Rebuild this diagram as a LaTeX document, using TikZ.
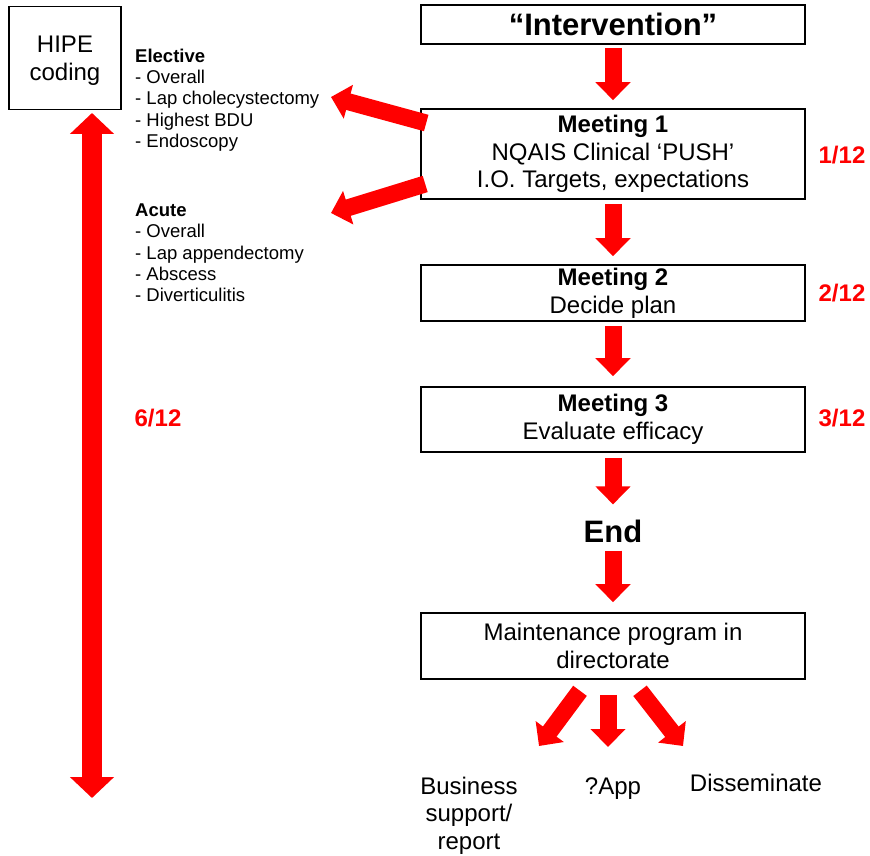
\documentclass[tikz,border=0pt]{standalone}
\usepackage{fontspec}
\setmainfont{Liberation Sans}
\usetikzlibrary{arrows.meta}

\tikzset{
  box/.style={draw, line width=1.6pt, minimum width=384pt, align=center, inner sep=0pt, font=\fontsize{24}{27.6}\selectfont},
  redarrow/.style={draw=red, line width=17pt, -{Triangle[length=18pt,width=34pt]}},
  frac/.style={text=red, inner sep=0pt, font=\bfseries\fontsize{24}{27.6}\selectfont},
  list/.style={anchor=north west, align=left, inner sep=0pt, font=\fontsize{18.5}{21.3}\selectfont},
  big/.style={inner sep=0pt, font=\bfseries\fontsize{31}{36}\selectfont},
  label/.style={inner sep=0pt, align=center, font=\fontsize{24}{27.6}\selectfont},
}

\begin{document}
\begin{tikzpicture}[x=1pt,y=-1pt]

\useasboundingbox (0,0) rectangle (870,856) ;

\node [box, minimum height=39pt] (interv) at (613,24.5) {\bfseries\fontsize{31}{36}\selectfont “Intervention”} ;
\node [box, minimum height=90pt] (m1) at (613,154) {\textbf{Meeting 1}\\NQAIS Clinical ‘PUSH’\\I.O. Targets, expectations} ;
\node [box, minimum height=56pt] (m2) at (613,293) {\textbf{Meeting 2}\\Decide plan} ;
\node [box, minimum height=65pt] (m3) at (613,419.5) {\textbf{Meeting 3}\\Evaluate efficacy} ;
\node [big] (end) at (613,531) {End} ;
\node [box, minimum height=66pt] (maint) at (613,646) {Maintenance program in\\directorate} ;

\node [box, minimum width=112pt, minimum height=103pt, text depth=0pt] (hipe) at (65,58) {HIPE\\coding} ;

\node [list] (elective) at (135,48.5) {\textbf{Elective}\\- Overall\\- Lap cholecystectomy\\- Highest BDU\\- Endoscopy} ;
\node [list] (acute) at (135,203.5) {\textbf{Acute}\\- Overall\\- Lap appendectomy\\- Abscess\\- Diverticulitis} ;

\node [frac] (f1) at (842,155) {1/12} ;
\node [frac] (f2) at (842,293) {2/12} ;
\node [frac] (f3) at (842,418) {3/12} ;
\node [frac] (f6) at (158,418) {6/12} ;

\node [label, anchor=north] (business) at (469,776.8) {Business\\support/\\report} ;
\node [label, anchor=base] (app) at (613,794) {?App} ;
\node [label, anchor=base] (dissem) at (756,791) {Disseminate} ;

\coordinate (elec) at (331,97) ;
\coordinate (acu) at (331,213) ;
\coordinate (tipb) at (539,746) ;
\coordinate (tipa) at (608,747) ;
\coordinate (tipd) at (683,746) ;
\coordinate (hipetop) at (92,113) ;
\coordinate (hipebot) at (92,798) ;

\draw [redarrow, shorten <=3pt, shorten >=8pt] (interv) -- (m1) ;
\draw [redarrow, shorten <=4pt, shorten >=8pt] (m1) -- (m2) ;
\draw [redarrow, shorten <=4pt, shorten >=10pt] (m2) -- (m3) ;
\draw [redarrow, shorten <=5pt, shorten >=15pt] (m3) -- (end) ;
\draw [redarrow, shorten <=8pt, shorten >=10pt] (end) -- (maint) ;

\draw [redarrow] ([xshift=6pt,yshift=31pt]m1.west) -- (elec) ;
\draw [redarrow] ([xshift=5pt,yshift=-30pt]m1.west) -- (acu) ;

\draw [redarrow] ([xshift=-33pt,yshift=-11pt]maint.south) -- (tipb) ;
\draw [redarrow] ([xshift=-5pt,yshift=-15pt]maint.south) -- (tipa) ;
\draw [redarrow] ([xshift=27pt,yshift=-11pt]maint.south) -- (tipd) ;

\draw [draw=red, line width=20pt, {Triangle[length=21pt,width=43pt]}-{Triangle[length=21pt,width=43pt]}] (hipetop) -- (hipebot) ;

\end{tikzpicture}
\end{document}
